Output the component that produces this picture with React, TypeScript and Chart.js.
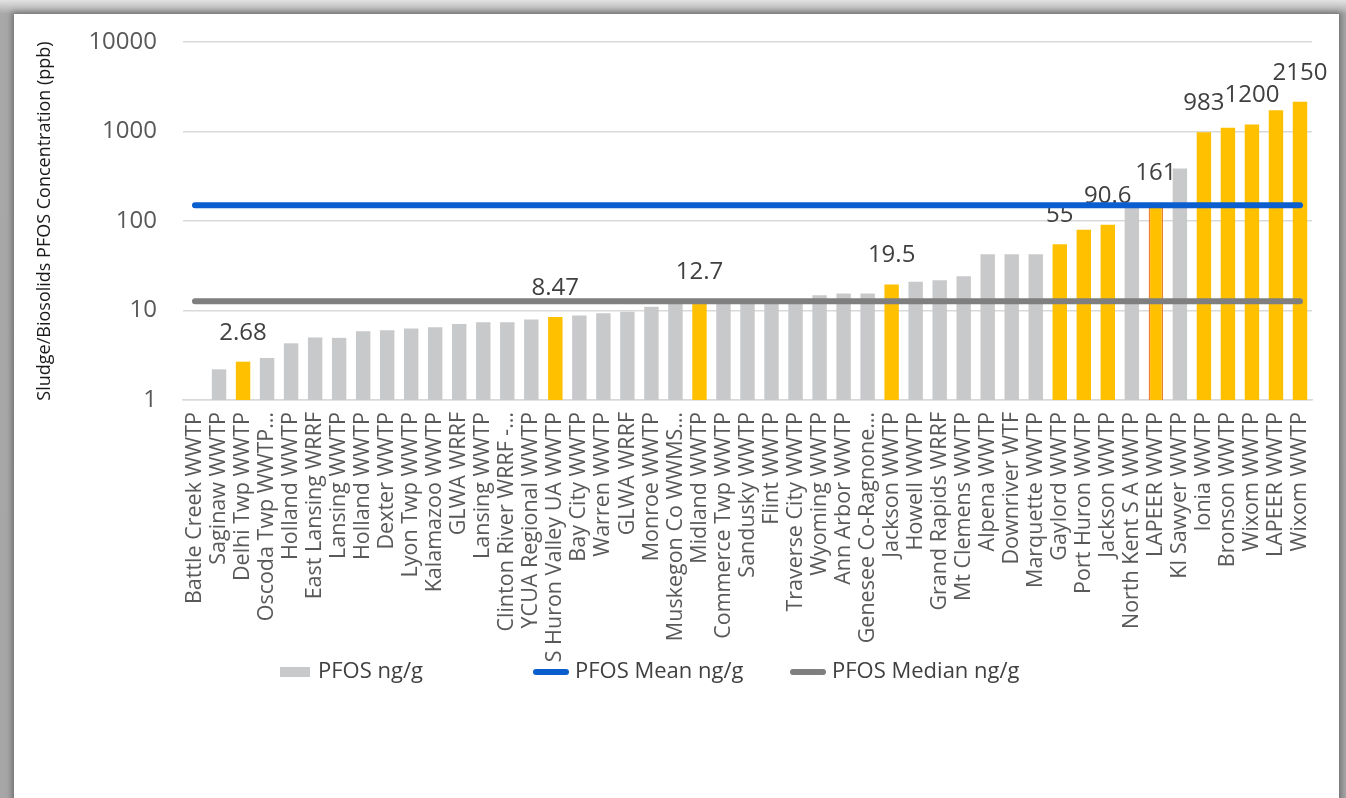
import { useEffect, useRef } from 'react';
import { Chart, registerables } from 'chart.js';

Chart.register(...registerables);

const categories = [
  'Battle Creek WWTP', 'Saginaw WWTP', 'Delhi Twp WWTP', 'Oscoda Twp WWTP…', 'Holland WWTP',
  'East Lansing WRRF', 'Lansing WWTP', 'Holland WWTP', 'Dexter WWTP', 'Lyon Twp WWTP',
  'Kalamazoo WWTP', 'GLWA WRRF', 'Lansing WWTP', 'Clinton River WRRF -…', 'YCUA Regional WWTP',
  'S Huron Valley UA WWTP', 'Bay City WWTP', 'Warren WWTP', 'GLWA WRRF', 'Monroe WWTP',
  'Muskegon Co WWMS…', 'Midland WWTP', 'Commerce Twp WWTP', 'Sandusky WWTP', 'Flint WWTP',
  'Traverse City WWTP', 'Wyoming WWTP', 'Ann Arbor WWTP', 'Genesee Co-Ragnone…', 'Jackson WWTP',
  'Howell WWTP', 'Grand Rapids WRRF', 'Mt Clemens WWTP', 'Alpena WWTP', 'Downriver WTF',
  'Marquette WWTP', 'Gaylord WWTP', 'Port Huron WWTP', 'Jackson WWTP', 'North Kent S A WWTP',
  'LAPEER WWTP', 'KI Sawyer WWTP', 'Ionia WWTP', 'Bronson WWTP', 'Wixom WWTP',
  'LAPEER WWTP', 'Wixom WWTP',
];

const pfosValues: (number | null)[] = [
  null, 2.2, 2.68, 2.95, 4.3,
  5.0, 4.95, 5.85, 6.0, 6.3,
  6.5, 7.05, 7.4, 7.4, 7.95,
  8.47, 8.8, 9.3, 9.7, 11.0,
  12.0, 12.7, 12.9, 13.0, 13.0,
  13.2, 14.8, 15.5, 15.5, 19.5,
  20.9, 21.8, 24.2, 42.5, 42.5,
  42.5, 55, 80, 90.6, 145,
  161, 385, 983, 1100, 1200,
  1725, 2150,
];

const meanValue = 150;
const medianValue = 12.7;

const highlightedIdx = [2, 15, 21, 29, 36, 37, 38, 40, 42, 43, 44, 45, 46];
const outlinedIdx = [40];
const labeledIdx = [2, 15, 21, 29, 36, 38, 40, 42, 44, 46];

const yTicks = [1, 10, 100, 1000, 10000];
const legendLabels = ['PFOS ng/g', 'PFOS Mean ng/g', 'PFOS Median ng/g'];
const yTitle = 'Sludge/Biosolids PFOS Concentration (ppb)';

const GRAY = '#c8c9cb';
const YELLOW = '#ffc000';
const BLUE = '#0a5ecd';
const MEDIAN = '#7f7f7f';
const FONT = '"Open Sans", "DejaVu Sans", sans-serif';

// legend item start positions (canvas px)
const LEGEND_X = [266, 519, 776];

const dataLabelPlugin = {
  id: 'dataLabels',
  afterDatasetDraw(chart: any, args: any) {
    if (args.index !== 0) return;
    const meta = chart.getDatasetMeta(0);
    const ctx = chart.ctx;
    ctx.save();
    ctx.font = `24px ${FONT}`;
    ctx.fillStyle = '#404040';
    ctx.textAlign = 'center';
    ctx.textBaseline = 'middle';
    labeledIdx.forEach((i) => {
      const el = meta.data[i];
      if (!el) return;
      ctx.fillText(String(pfosValues[i]), el.x, el.y - 29);
    });
    ctx.restore();
  },
};

const legendPlugin = {
  id: 'customLegend',
  afterDraw(chart: any) {
    const ctx = chart.ctx;
    const ds = chart.data.datasets;
    ctx.save();
    ctx.font = `22px ${FONT}`;
    ctx.textBaseline = 'middle';
    ctx.textAlign = 'left';
    const y = chart.height - 126;
    legendLabels.forEach((t, i) => {
      const x = LEGEND_X[i];
      let textX = x;
      if (i === 0) {
        ctx.fillStyle = GRAY;
        ctx.fillRect(x, y - 5, 30, 10);
        textX = x + 38;
      } else {
        ctx.strokeStyle = ds[i].borderColor;
        ctx.lineWidth = 6;
        ctx.lineCap = 'round';
        ctx.beginPath();
        ctx.moveTo(x + 3, y);
        ctx.lineTo(x + 33, y);
        ctx.stroke();
        textX = x + 42;
      }
      ctx.fillStyle = '#404040';
      ctx.fillText(t, textX, y);
    });
    ctx.restore();
  },
};

export default function App() {
  const canvasRef = useRef<HTMLCanvasElement | null>(null);

  useEffect(() => {
    const canvas = canvasRef.current;
    if (!canvas) return;
    const colors = categories.map((_, i) => (highlightedIdx.includes(i) ? YELLOW : GRAY));
    const borderColors = categories.map((_, i) => (outlinedIdx.includes(i) ? '#ed7d31' : 'rgba(0,0,0,0)'));
    const borderWidths = categories.map((_, i) =>
      outlinedIdx.includes(i) ? { left: 1.5, right: 1.5, top: 0, bottom: 0 } : 0
    );
    const chart = new Chart(canvas, {
      type: 'bar',
      data: {
        labels: categories,
        datasets: [
          {
            type: 'bar',
            label: legendLabels[0],
            data: pfosValues as any,
            backgroundColor: colors,
            borderColor: borderColors,
            borderWidth: borderWidths as any,
            borderSkipped: false,
            barPercentage: 0.6,
            categoryPercentage: 1,
            order: 3,
          },
          {
            type: 'line',
            label: legendLabels[1],
            data: categories.map(() => meanValue),
            borderColor: BLUE,
            backgroundColor: BLUE,
            borderWidth: 6,
            borderCapStyle: 'round',
            pointRadius: 0,
            order: 1,
          },
          {
            type: 'line',
            label: legendLabels[2],
            data: categories.map(() => medianValue),
            borderColor: MEDIAN,
            backgroundColor: MEDIAN,
            borderWidth: 6,
            borderCapStyle: 'round',
            pointRadius: 0,
            order: 2,
          },
        ] as any,
      },
      options: {
        animation: false,
        responsive: false,
        layout: { padding: { left: 0, right: 27, top: 28, bottom: 120 } },
        plugins: {
          legend: { display: false },
          tooltip: { enabled: false },
        },
        scales: {
          x: {
            grid: { display: false },
            border: { display: true, color: '#d9d9d9', width: 1.5 },
            ticks: {
              autoSkip: false,
              minRotation: 90,
              maxRotation: 90,
              padding: 4,
              color: '#595959',
              font: { family: FONT, size: 21.5 },
            },
            afterFit: (s: any) => {
              s.height = 278;
            },
          },
          y: {
            type: 'logarithmic',
            min: 1,
            max: 10000,
            afterBuildTicks: (s: any) => {
              s.ticks = yTicks.map((v) => ({ value: v }));
            },
            ticks: {
              callback: (v: any) => String(v),
              padding: 26,
              color: '#595959',
              font: { family: FONT, size: 24 },
            },
            grid: { color: '#d9d9d9', lineWidth: 1.5, drawTicks: false },
            border: { display: false },
            title: {
              display: true,
              text: yTitle,
              color: '#1a1a1a',
              font: { family: FONT, size: 18 },
              padding: { top: 20, bottom: 0 },
            },
            afterFit: (s: any) => {
              s.width = 169;
              s.paddingTop = 0;
              s.paddingBottom = 0;
            },
          },
        },
      } as any,
      plugins: [dataLabelPlugin, legendPlugin],
    });
    return () => chart.destroy();
  }, []);

  return (
    <div
      style={{
        position: 'absolute',
        left: 0,
        top: 0,
        width: 1346,
        height: 798,
        overflow: 'hidden',
        background: 'linear-gradient(to bottom, #e2e2e2 0px, #a8a8a8 14px, #a6a6a6 100%)',
      }}
    >
      <div
        style={{
          position: 'absolute',
          left: 14,
          top: 14,
          width: 1325,
          height: 790,
          background: '#ffffff',
          boxShadow: '0 0 6px 2px rgba(0,0,0,0.35)',
        }}
      >
        <canvas ref={canvasRef} width={1325} height={784} style={{ display: 'block' }} />
      </div>
    </div>
  );
}
